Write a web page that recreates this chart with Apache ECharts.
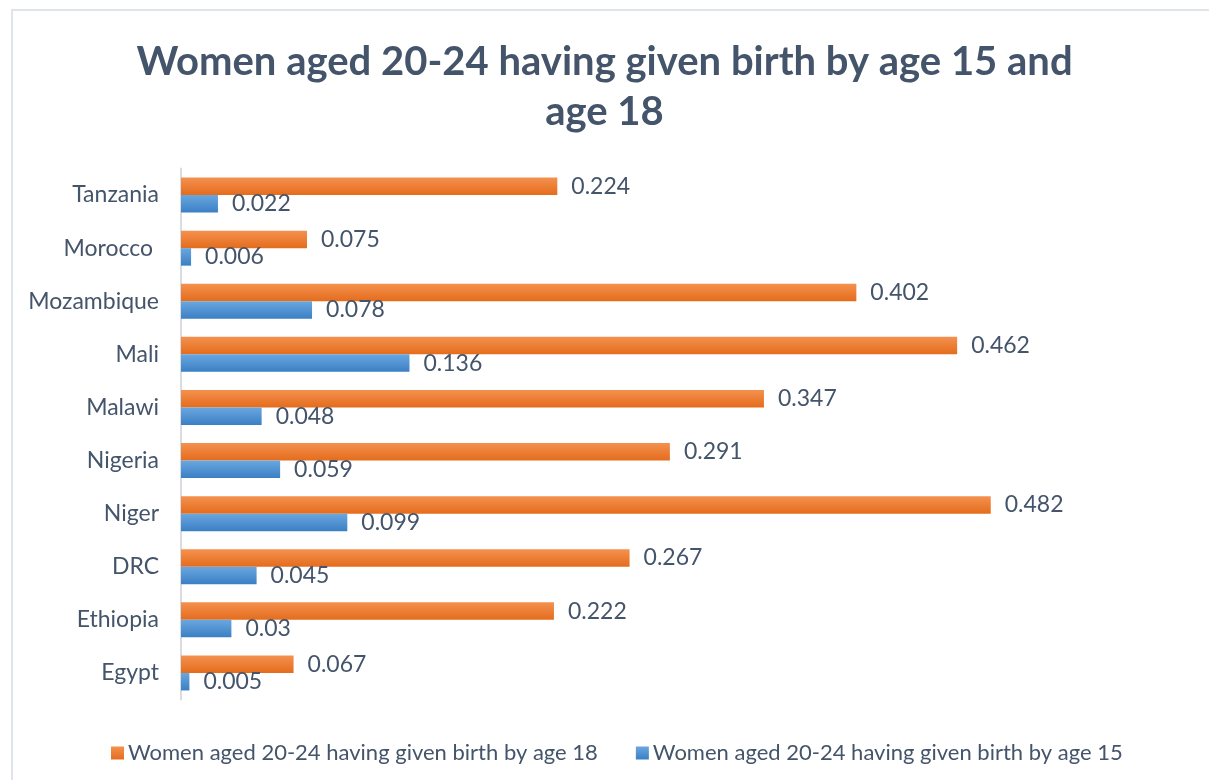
<!DOCTYPE html>
<html>
<head>
<meta charset="utf-8">
<script src="https://cdn.jsdelivr.net/npm/echarts@6/dist/echarts.min.js"></script>
<style>
  html, body { margin: 0; padding: 0; background: #fff; }
  #myChart { width: 1209px; height: 780px; }
</style>
</head>
<body>
<div id="myChart"></div>
<script>
  // data, top to bottom as in the picture
  var countries = ['Tanzania', 'Morocco ', 'Mozambique', 'Mali', 'Malawi', 'Nigeria', 'Niger', 'DRC', 'Ethiopia', 'Egypt'];
  var age18 = [0.224, 0.075, 0.402, 0.462, 0.347, 0.291, 0.482, 0.267, 0.222, 0.067];
  var age15 = [0.022, 0.006, 0.078, 0.136, 0.048, 0.059, 0.099, 0.045, 0.03, 0.005];
  var name18 = 'Women aged 20-24 having given birth by age 18';
  var name15 = 'Women aged 20-24 having given birth by age 15';

  var textColor = '#44546a';
  var font = 'Lato, "Open Sans", sans-serif';

  var myChart = echarts.init(document.getElementById('myChart'));

  var option = {
    animation: false,
    textStyle: { fontFamily: font },
    title: {
      text: 'Women aged 20-24 having given birth by age 15 and\nage 18',
      left: 'center',
      top: 32,
      textStyle: {
        color: textColor,
        fontSize: 40,
        fontWeight: 'bold',
        lineHeight: 50,
        fontFamily: font
      }
    },
    legend: {
      data: [name18, name15],
      left: 106,
      top: 737,
      itemWidth: 13,
      itemHeight: 13,
      itemGap: 38,
      icon: 'rect',
      textStyle: { color: textColor, fontSize: 22, fontFamily: font, padding: [0, 0, 0, -1] }
    },
    grid: {
      left: 181,
      top: 168.5,
      width: 840,
      height: 531,
      containLabel: false
    },
    xAxis: {
      type: 'value',
      min: 0,
      max: 0.5,
      show: false,
      splitLine: { show: false }
    },
    yAxis: {
      type: 'category',
      inverse: true,
      data: countries,
      axisLine: { show: true, lineStyle: { color: '#d9dde3', width: 2 } },
      axisTick: { show: false },
      axisLabel: { color: textColor, fontSize: 23, margin: 22, fontFamily: font }
    },
    series: [{
      name: name18,
      type: 'bar',
      data: age18,
      barWidth: 17.5,
      barGap: '0%',
      itemStyle: {
        color: new echarts.graphic.LinearGradient(0, 0, 0, 1, [
          { offset: 0, color: '#f4914f' },
          { offset: 1, color: '#e46c1c' }
        ])
      },
      label: {
        show: true,
        position: 'right',
        distance: 14,
        color: textColor,
        fontSize: 23,
        fontFamily: font
      }
    }, {
      name: name15,
      type: 'bar',
      data: age15,
      barWidth: 17.5,
      barGap: '0%',
      itemStyle: {
        color: new echarts.graphic.LinearGradient(0, 0, 0, 1, [
          { offset: 0, color: '#6aa7e0' },
          { offset: 1, color: '#3b7fc4' }
        ])
      },
      label: {
        show: true,
        position: 'right',
        distance: 14,
        color: textColor,
        fontSize: 23,
        fontFamily: font
      }
    }],
    graphic: [{
      type: 'rect',
      silent: true,
      shape: { x: 12, y: 10, width: 1220, height: 800 },
      style: { fill: null, stroke: '#dfe3ea', lineWidth: 2 }
    }]
  };

  myChart.setOption(option);
</script>
</body>
</html>
